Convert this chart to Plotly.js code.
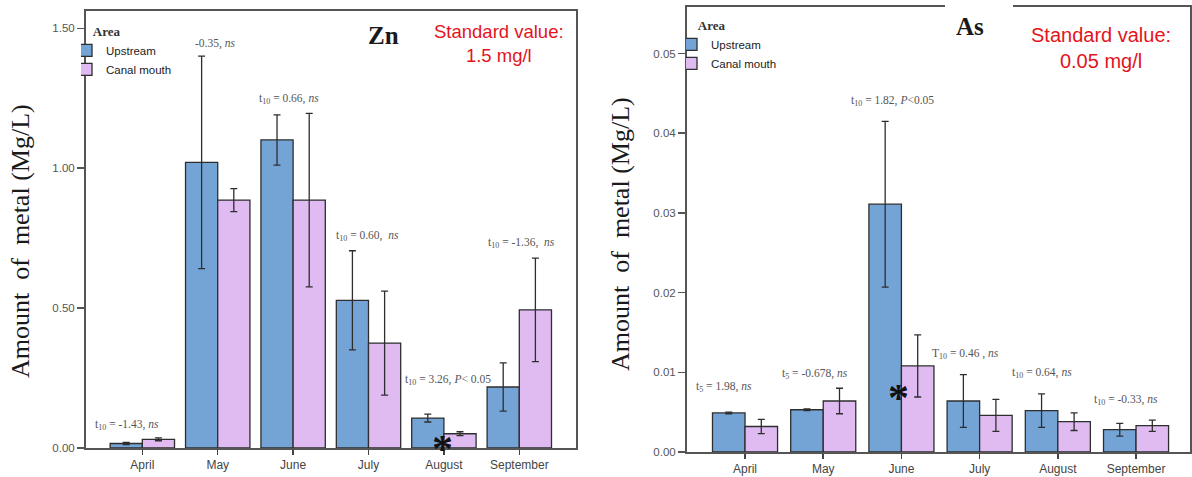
<!DOCTYPE html>
<html>
<head>
<meta charset="utf-8">
<script src="https://cdn.plot.ly/plotly-3.0.1.min.js"></script>
<style>html,body{margin:0;padding:0;background:#fff;}#chart{width:1192px;height:477px;}</style>
</head>
<body>
<div id="chart"></div>
<script>
// ---------- data ----------
const months = ['April', 'May', 'June', 'July', 'August', 'September'];
const seriesNames = ['Upstream', 'Canal mouth'];

const zn_upstream     = [0.016, 1.021, 1.101, 0.528, 0.107, 0.218];
const zn_upstream_err = [0.004, 0.380, 0.090, 0.177, 0.014, 0.086];
const zn_canal        = [0.031, 0.886, 0.886, 0.375, 0.051, 0.494];
const zn_canal_err    = [0.005, 0.041, 0.310, 0.186, 0.007, 0.185];

const as_upstream     = [0.0049, 0.0053, 0.0311, 0.0064, 0.0052, 0.0028];
const as_upstream_err = [0.0001, 0.0001, 0.0104, 0.0033, 0.0021, 0.0008];
const as_canal        = [0.0032, 0.0064, 0.0108, 0.0046, 0.0038, 0.0033];
const as_canal_err    = [0.0009, 0.0016, 0.0039, 0.0020, 0.0011, 0.0007];

const zn_ticks = [0, 0.5, 1.0, 1.5];
const as_ticks = [0, 0.01, 0.02, 0.03, 0.04, 0.05];

const zn_stats = ['t<sub>10</sub> = -1.43, <i>ns</i>', '-0.35, <i>ns</i>', 't<sub>10</sub> = 0.66, <i>ns</i>',
                  't<sub>10</sub> = 0.60,  <i>ns</i>', 't<sub>10</sub> = 3.26, <i>P</i>< 0.05', 't<sub>10</sub> = -1.36,  <i>ns</i>'];
const as_stats = ['t<sub>5</sub> = 1.98, <i>ns</i>', 't<sub>5</sub> = -0.678, <i>ns</i>', 't<sub>10</sub> = 1.82, <i>P</i><0.05',
                  'T<sub>10</sub> = 0.46 , <i>ns</i>', 't<sub>10</sub> = 0.64, <i>ns</i>', 't<sub>10</sub> = -0.33, <i>ns</i>'];

const zn_title = 'Zn', as_title = 'As';
const zn_standard = 'Standard value:<br>1.5 mg/l';
const as_standard = 'Standard value:<br>0.05 mg/l';
const yTitle = 'Amount\u00A0 of\u00A0 metal (Mg/L)';
const legendTitle = 'Area';

// ---------- styles ----------
const W = 1192, H = 477;
const blue = '#74a4d6', pink = '#dfbbf2', edge = '#2e2e2e', axisCol = '#555';
const px = v => v / W, py = v => 1 - v / H;

function barTrace(y, err, name, color, xa, ya, w, off, legend) {
  return {
    type: 'bar', x: months, y: y, name: name, xaxis: xa, yaxis: ya,
    width: w, offset: off, legend: legend, showlegend: true,
    marker: {color: color, line: {color: edge, width: 1.3}},
    error_y: {type: 'data', array: err, visible: true, color: '#2e2e2e', thickness: 1.3, width: 3.5},
    hoverinfo: 'x+y'
  };
}
const wL = 0.427, wR = 0.416;
const data = [
  barTrace(zn_upstream, zn_upstream_err, seriesNames[0], blue, 'x', 'y', wL, -wL, 'legend'),
  barTrace(zn_canal, zn_canal_err, seriesNames[1], pink, 'x', 'y', wL, 0, 'legend'),
  barTrace(as_upstream, as_upstream_err, seriesNames[0], blue, 'x2', 'y2', wR, -wR, 'legend2'),
  barTrace(as_canal, as_canal_err, seriesNames[1], pink, 'x2', 'y2', wR, 0, 'legend2')
];

const tickFont = {family: 'Liberation Sans, Arial, sans-serif', size: 12, color: '#444'};
function xAxis(domain, anchor, range) {
  return {domain: domain, anchor: anchor, range: range, type: 'category',
    showline: true, mirror: true, linecolor: axisCol, linewidth: 2,
    ticks: 'outside', ticklen: 5, tickwidth: 1.5, tickcolor: '#444',
    tickfont: tickFont, showgrid: false, zeroline: false, fixedrange: true};
}
function yAxis(domain, anchor, range, tickvals) {
  return {domain: domain, anchor: anchor, range: range, tickvals: tickvals, tickformat: '.2f',
    showline: true, mirror: true, linecolor: axisCol, linewidth: 2,
    ticks: 'outside', ticklen: 7, tickwidth: 1.5, tickcolor: '#555',
    tickfont: {family: 'Liberation Sans, Arial, sans-serif', size: 11.5, color: '#555'},
    showgrid: false, zeroline: false, fixedrange: true};
}

const statFont = {family: 'Liberation Serif, Times New Roman, serif', size: 11.5, color: '#555'};
// label placement (xshift px from category centre, y in data units)
const znStatPos = [[-15, 0.082], [-3, 1.447], [-4, 1.247], [-1, 0.758], [4, 0.243], [2, 0.733]];
const asStatPos = [[-21, 0.00816], [-8, 0.00979], [-9, 0.04404], [-14, 0.0123], [-16, 0.00991], [-10, 0.00652]];

const annotations = [];
function ann(o) { annotations.push(Object.assign({showarrow: false, xanchor: 'center', yanchor: 'middle'}, o)); }
months.forEach((m, i) => {
  ann({xref: 'x', yref: 'y', x: m, y: znStatPos[i][1], xshift: znStatPos[i][0], text: zn_stats[i], font: statFont});
  ann({xref: 'x2', yref: 'y2', x: m, y: asStatPos[i][1], xshift: asStatPos[i][0], text: as_stats[i], font: statFont});
});
const starFont = {family: 'Liberation Serif, serif', size: 42, color: '#111'};
ann({xref: 'x', yref: 'y', x: months[4], y: 0.018, xshift: -1, yshift: -6, text: '<b>*</b>', font: starFont, height: 26, valign: 'middle'});
ann({xref: 'x2', yref: 'y2', x: months[2], y: 0.00753, xshift: -3, yshift: -6, text: '<b>*</b>', font: starFont, height: 26, valign: 'middle'});

const titleFont = {family: 'Liberation Serif, Times New Roman, serif', size: 25, color: '#1a1a1a'};
ann({xref: 'paper', yref: 'paper', x: px(383), y: py(35), text: '<b>' + zn_title + '</b>', font: titleFont});
ann({xref: 'paper', yref: 'paper', x: px(970), y: py(27), text: '<b>' + as_title + '</b>', font: titleFont});

ann({xref: 'paper', yref: 'paper', x: px(499), y: py(43.5), text: zn_standard,
  font: {family: 'Liberation Sans, Arial, sans-serif', size: 18.5, color: '#e3141c'}});
ann({xref: 'paper', yref: 'paper', x: px(1101), y: py(47.5), text: as_standard,
  font: {family: 'Liberation Sans, Arial, sans-serif', size: 20, color: '#e3141c'}});

const yTitleFont = {family: 'Liberation Serif, Times New Roman, serif', size: 26, color: '#1a1a1a'};
ann({xref: 'paper', yref: 'paper', x: px(20), y: py(241), text: yTitle, textangle: -90, font: yTitleFont});
ann({xref: 'paper', yref: 'paper', x: px(620), y: py(234), text: yTitle, textangle: -90, font: yTitleFont});

function legendCfg(x, y) {
  return {x: px(x), y: py(y), xanchor: 'left', yanchor: 'top', bgcolor: 'rgba(0,0,0,0)', borderwidth: 0,
    indentation: -15,
    font: {family: 'Liberation Sans, Arial, sans-serif', size: 11.5, color: '#222'},
    title: {text: '<b>\u00A0\u00A0\u00A0' + legendTitle + '</b>', font: {family: 'Liberation Serif, serif', size: 13, color: '#333'}},
    itemclick: false, itemdoubleclick: false, tracegroupgap: 0};
}

const layout = {
  width: W, height: H, margin: {l: 0, r: 0, t: 0, b: 0},
  paper_bgcolor: '#fff', plot_bgcolor: '#fff', showlegend: true, barmode: 'overlay',
  xaxis: xAxis([px(86), px(576)], 'y', [-0.747, 5.752]),
  yaxis: yAxis([1 - 448 / H, 1 - 11 / H], 'x', [0, 1.562], zn_ticks),
  xaxis2: xAxis([px(687), px(1190)], 'y2', [-0.742, 5.69]),
  yaxis2: yAxis([1 - 452 / H, 1 - 7 / H], 'x2', [0, 0.05584], as_ticks),
  legend: legendCfg(81, 19),
  legend2: legendCfg(686, 13),
  annotations: annotations,
  shapes: [{type: 'rect', xref: 'paper', yref: 'paper', x0: px(945), x1: px(1013), y0: py(11), y1: py(3),
    fillcolor: '#fff', line: {width: 0}, layer: 'above'}]
};

Plotly.newPlot('chart', data, layout, {displayModeBar: false, staticPlot: true});
</script>
</body>
</html>
